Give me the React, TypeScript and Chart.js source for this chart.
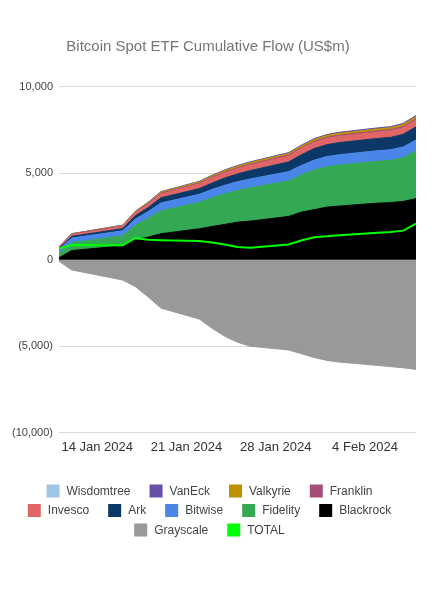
import { useEffect, useRef } from 'react';
import { Chart, registerables } from 'chart.js';

Chart.register(...registerables);

// ---- data (US$m, cumulative) ----
const DATES = [
  '2024-01-11', '2024-01-12', '2024-01-16', '2024-01-17', '2024-01-18', '2024-01-19',
  '2024-01-22', '2024-01-23', '2024-01-24', '2024-01-25', '2024-01-26',
  '2024-01-29', '2024-01-30', '2024-01-31', '2024-02-01', '2024-02-02',
  '2024-02-05', '2024-02-06', '2024-02-07', '2024-02-08',
];
const TICK_DATES = ['2024-01-14', '2024-01-21', '2024-01-28', '2024-02-04'];
const TICK_LABELS = ['14 Jan 2024', '21 Jan 2024', '28 Jan 2024', '4 Feb 2024'];
const Y_TICKS = [-10000, -5000, 0, 5000, 10000];

const BLACKROCK = [112, 530, 800, 1160, 1310, 1500, 1790, 1920, 2040, 2170, 2230, 2500, 2750, 2890, 3040, 3100, 3270, 3300, 3370, 3530];
const FIDELITY = [230, 450, 580, 840, 1090, 1330, 1520, 1660, 1760, 1830, 1920, 2050, 2140, 2290, 2330, 2370, 2420, 2440, 2520, 2750];
const BITWISE = [230, 270, 290, 350, 380, 450, 470, 480, 500, 510, 520, 540, 550, 570, 590, 600, 610, 615, 625, 640];
const ARK = [70, 100, 130, 200, 240, 300, 330, 370, 420, 450, 480, 560, 620, 670, 690, 700, 710, 715, 730, 760];
const INVESCO = [60, 90, 110, 150, 180, 210, 260, 280, 290, 300, 310, 330, 340, 345, 350, 355, 360, 365, 375, 385];
const FRANKLIN = [20, 30, 35, 40, 45, 50, 55, 58, 60, 62, 64, 66, 68, 70, 72, 74, 76, 78, 80, 82];
const VALKYRIE = [10, 20, 30, 40, 50, 60, 70, 75, 80, 85, 90, 95, 100, 105, 110, 112, 115, 118, 120, 125];
const VANECK = [10, 15, 20, 25, 28, 30, 32, 34, 36, 38, 40, 42, 44, 46, 48, 50, 52, 54, 56, 58];
const WISDOMTREE = [2, 3, 4, 4, 5, 5, 6, 6, 7, 7, 8, 8, 9, 9, 10, 10, 11, 11, 12, 12];
const GRAYSCALE = [-95, -590, -1180, -1560, -2150, -2800, -3430, -3960, -4420, -4770, -5000, -5220, -5430, -5650, -5820, -5920, -6110, -6180, -6250, -6340];
const TOTAL = [650, 850, 830, 1260, 1150, 1130, 1080, 990, 880, 730, 690, 880, 1110, 1300, 1350, 1420, 1560, 1600, 1680, 2080];

const LEGEND_ORDER = ['Wisdomtree', 'VanEck', 'Valkyrie', 'Franklin', 'Invesco', 'Ark', 'Bitwise', 'Fidelity', 'Blackrock', 'Grayscale', 'TOTAL'];

// ---- styling ----
const FONT = "'Liberation Sans', Arial, Helvetica, sans-serif";
const STACK_SERIES = [
  { label: 'Blackrock', data: BLACKROCK, color: '#000000' },
  { label: 'Fidelity', data: FIDELITY, color: '#34a853' },
  { label: 'Bitwise', data: BITWISE, color: '#4a86e8' },
  { label: 'Ark', data: ARK, color: '#0b3866' },
  { label: 'Invesco', data: INVESCO, color: '#e06666' },
  { label: 'Franklin', data: FRANKLIN, color: '#a64d79' },
  { label: 'Valkyrie', data: VALKYRIE, color: '#bf9000' },
  { label: 'VanEck', data: VANECK, color: '#674ea7' },
  { label: 'Wisdomtree', data: WISDOMTREE, color: '#9fc5e8' },
];

const DAY_MS = 86400000;
const START = Date.parse(DATES[0] + 'T00:00:00Z');
const dayOf = (d: string) => Math.round((Date.parse(d + 'T00:00:00Z') - START) / DAY_MS);
const END_DAY = dayOf(DATES[DATES.length - 1]);
const toPoints = (vals: number[]) => vals.map((v, i) => ({ x: dayOf(DATES[i]), y: v }));

const fmtY = (v: number) => {
  const s = Math.abs(v).toLocaleString('en-US');
  return v < 0 ? `(${s})` : s;
};

const BOX = 13;
const BOX_GAP = 7;
const ITEM_GAP = 19;
const MAX_ROW = 380;
const ROW_PITCH = 19.5;
const FIRST_ROW_OFFSET = 58.3;

const sheetLegend = {
  id: 'sheetLegend',
  afterDraw(chart: any) {
    const ctx = chart.ctx as CanvasRenderingContext2D;
    const area = chart.chartArea;
    ctx.save();
    ctx.font = `12px ${FONT}`;
    ctx.textBaseline = 'middle';
    ctx.textAlign = 'left';
    const items = LEGEND_ORDER.map((name) => {
      const ds = chart.data.datasets.find((d: any) => d.label === name);
      return { name, color: ds.borderColor as string, w: BOX + BOX_GAP + ctx.measureText(name).width };
    });
    const rows: { items: typeof items; w: number }[] = [];
    let cur: typeof items = [];
    let curW = 0;
    for (const it of items) {
      if (cur.length && curW + ITEM_GAP + it.w > MAX_ROW) {
        rows.push({ items: cur, w: curW });
        cur = [it];
        curW = it.w;
      } else {
        curW += (cur.length ? ITEM_GAP : 0) + it.w;
        cur.push(it);
      }
    }
    if (cur.length) rows.push({ items: cur, w: curW });
    const cx = (area.left + area.right) / 2 - 28;
    rows.forEach((row, r) => {
      const cy = area.bottom + FIRST_ROW_OFFSET + r * ROW_PITCH;
      let x = cx - row.w / 2;
      for (const it of row.items) {
        ctx.fillStyle = it.color;
        ctx.fillRect(x, cy - BOX / 2, BOX, BOX);
        ctx.fillStyle = '#444444';
        ctx.fillText(it.name, x + BOX + BOX_GAP, cy + 0.5);
        x += it.w + ITEM_GAP;
      }
    });
    ctx.restore();
  },
};

export default function App() {
  const ref = useRef<HTMLCanvasElement>(null);

  useEffect(() => {
    if (!ref.current) return;
    const datasets: any[] = STACK_SERIES.map((s, i) => ({
      label: s.label,
      data: toPoints(s.data),
      borderColor: s.color,
      backgroundColor: s.color,
      borderWidth: 1,
      fill: i === 0 ? 'origin' : '-1',
      pointRadius: 0,
      tension: 0,
      stack: 'funds',
    }));
    datasets.push({
      label: 'Grayscale',
      data: toPoints(GRAYSCALE),
      borderColor: '#999999',
      backgroundColor: '#999999',
      borderWidth: 1,
      fill: 'origin',
      pointRadius: 0,
      tension: 0,
      stack: 'funds',
    });
    datasets.push({
      label: 'TOTAL',
      data: toPoints(TOTAL),
      borderColor: '#00ff00',
      backgroundColor: '#00ff00',
      borderWidth: 2,
      fill: false,
      pointRadius: 0,
      tension: 0,
      stack: 'total',
      order: -1,
    });

    const chart = new Chart(ref.current, {
      type: 'line',
      data: { datasets },
      plugins: [sheetLegend],
      options: {
        animation: false,
        responsive: true,
        maintainAspectRatio: false,
        events: [],
        layout: { padding: { top: 0, left: 0, right: 23, bottom: 120.3 } },
        plugins: {
          legend: { display: false },
          tooltip: { enabled: false },
          title: {
            display: true,
            text: 'Bitcoin Spot ETF Cumulative Flow (US$m)',
            color: '#757575',
            font: { family: FONT, size: 15, weight: 'normal' },
            padding: { top: 38, bottom: 30.7 },
          },
        },
        scales: {
          x: {
            type: 'linear',
            min: 0,
            max: END_DAY,
            grid: { display: false, drawTicks: false },
            border: { display: false },
            afterBuildTicks: (s: any) => {
              s.ticks = TICK_DATES.map((d) => ({ value: dayOf(d) }));
            },
            afterFit: (s: any) => {
              s.height = 47;
            },
            ticks: {
              autoSkip: false,
              maxRotation: 0,
              padding: 7,
              color: '#333333',
              font: { family: FONT, size: 13 },
              callback: (v: any) => {
                const i = TICK_DATES.findIndex((d) => dayOf(d) === v);
                return i >= 0 ? TICK_LABELS[i] : '';
              },
            },
          },
          y: {
            stacked: true,
            min: -10000,
            max: 10000,
            grid: { color: '#d9d9d9', drawTicks: false },
            border: { display: false },
            afterBuildTicks: (s: any) => {
              s.ticks = Y_TICKS.map((v) => ({ value: v }));
            },
            afterFit: (s: any) => {
              s.width = 59;
            },
            ticks: {
              padding: 6,
              color: '#444444',
              font: { family: FONT, size: 11 },
              callback: (v: any) => fmtY(Number(v)),
            },
          },
        },
      },
    } as any);
    return () => chart.destroy();
  }, []);

  return (
    <div style={{ position: 'absolute', left: 0, top: 0, width: 439, height: 600, background: '#ffffff' }}>
      <canvas ref={ref} />
    </div>
  );
}
